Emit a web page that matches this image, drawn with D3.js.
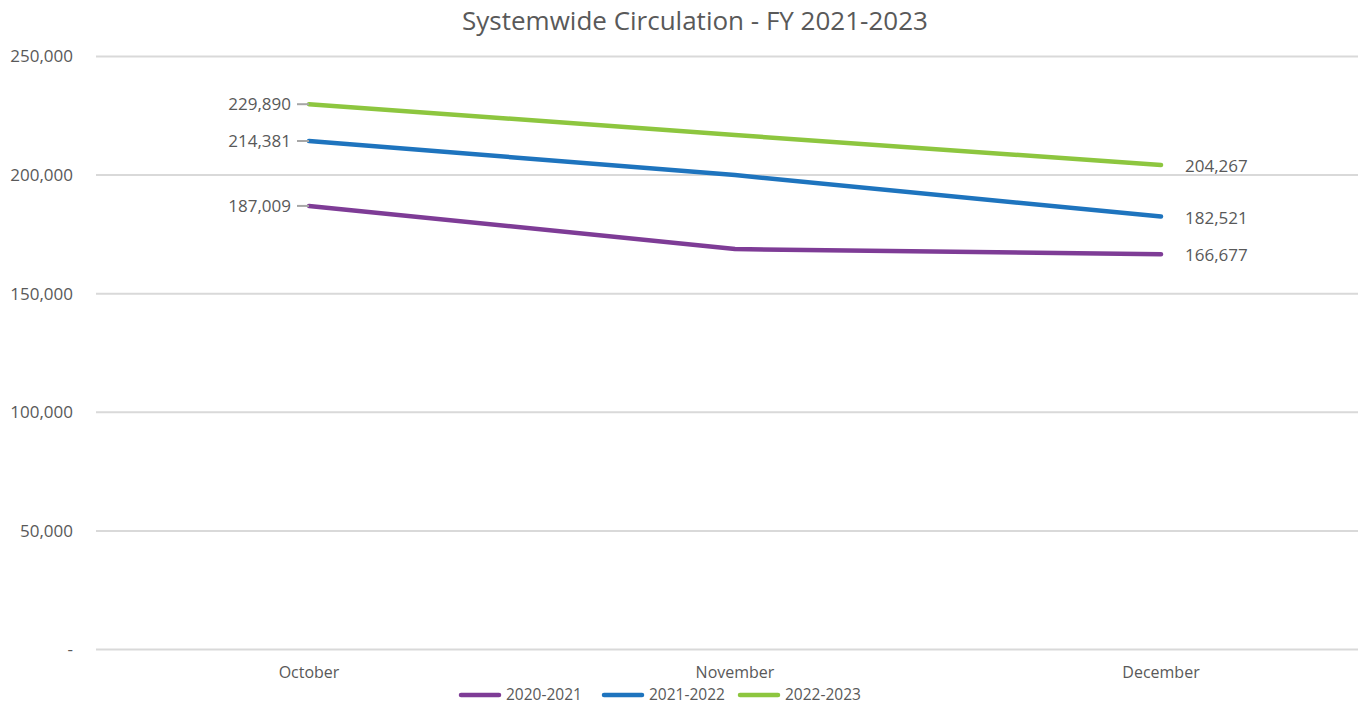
<!DOCTYPE html>
<html>
<head>
<meta charset="utf-8">
<script src="https://cdn.jsdelivr.net/npm/d3@7"></script>
<style>
  html, body { margin: 0; padding: 0; background: #fff; }
  svg { display: block; font-family: "Open Sans", "Noto Sans", sans-serif; }
</style>
</head>
<body>
<svg id="chart" width="1358" height="708"></svg>
<script>
// Monthly circulation by fiscal year
const months = ["October", "November", "December"];
const seriesNames = ["2020-2021", "2021-2022", "2022-2023"];
const values2020 = [187009, 168800, 166677];
const values2021 = [214381, 200000, 182521];
const values2022 = [229890, 216900, 204267];
const yTicks = [0, 50000, 100000, 150000, 200000, 250000];
const colors = ["#7E3C96", "#1E74BE", "#8DC63F"];

const series = [values2020, values2021, values2022].map((v, i) => ({
  name: seriesNames[i], values: v, color: colors[i]
}));

const svg = d3.select("#chart");
const plotLeft = 96, plotRight = 1374, plotTop = 56.5, plotBottom = 649.5;

const x = d3.scaleBand().domain(months).range([plotLeft, plotRight]);
const y = d3.scaleLinear().domain([0, 250000]).range([plotBottom, plotTop]);
const fmt = d3.format(",");
const textColor = "#595959";

// Title
svg.append("text")
  .attr("x", 695).attr("y", 30)
  .attr("text-anchor", "middle")
  .attr("font-size", 26)
  .attr("fill", textColor)
  .text("Systemwide Circulation - FY 2021-2023");

// Gridlines
svg.append("g")
  .selectAll("line")
  .data(yTicks)
  .join("line")
  .attr("x1", plotLeft).attr("x2", plotRight)
  .attr("y1", d => y(d)).attr("y2", d => y(d))
  .attr("stroke", "#d9d9d9")
  .attr("stroke-width", 2);

// Y axis labels
const yAxis = d3.axisLeft(y)
  .tickValues(yTicks)
  .tickSize(0)
  .tickPadding(23)
  .tickFormat(d => d === 0 ? "-" : fmt(d));
svg.append("g")
  .attr("transform", `translate(${plotLeft},0)`)
  .call(yAxis)
  .call(g => g.select(".domain").remove())
  .call(g => g.selectAll("text")
    .attr("font-size", 17)
    .attr("fill", textColor)
    .attr("font-family", "'Open Sans', sans-serif"));

// X axis labels
const xAxis = d3.axisBottom(x).tickSize(0).tickPadding(17);
svg.append("g")
  .attr("transform", `translate(0,${plotBottom})`)
  .call(xAxis)
  .call(g => g.select(".domain").remove())
  .call(g => g.selectAll("text")
    .attr("font-size", 16)
    .attr("fill", textColor)
    .attr("font-family", "'Open Sans', sans-serif"));

const cx = m => x(m) + x.bandwidth() / 2;

// Lines
const line = d3.line()
  .x((d, i) => cx(months[i]))
  .y(d => y(d));

svg.append("g")
  .selectAll("path")
  .data(series)
  .join("path")
  .attr("d", d => line(d.values))
  .attr("fill", "none")
  .attr("stroke", d => d.color)
  .attr("stroke-width", 4.5)
  .attr("stroke-linecap", "round")
  .attr("stroke-linejoin", "round");

// Data labels on first month with leader lines
const first = svg.append("g");
series.forEach(s => {
  const px = cx(months[0]), py = y(s.values[0]);
  first.append("line")
    .attr("x1", px - 12).attr("x2", px)
    .attr("y1", py).attr("y2", py)
    .attr("stroke", "#a6a6a6").attr("stroke-width", 2);
  first.append("text")
    .attr("x", px - 18).attr("y", py)
    .attr("dy", "0.35em")
    .attr("text-anchor", "end")
    .attr("font-size", 17)
    .attr("fill", textColor)
    .text(fmt(s.values[0]));
});

// Data labels on last month
const last = svg.append("g");
series.forEach(s => {
  const n = s.values.length - 1;
  const px = cx(months[n]), py = y(s.values[n]);
  last.append("text")
    .attr("x", px + 24).attr("y", py + 1)
    .attr("dy", "0.35em")
    .attr("text-anchor", "start")
    .attr("font-size", 17)
    .attr("fill", textColor)
    .text(fmt(s.values[n]));
});

// Legend
const legendX = [461, 604, 740];
const legend = svg.append("g");
series.forEach((s, i) => {
  const lx = legendX[i], ly = 695;
  legend.append("line")
    .attr("x1", lx).attr("x2", lx + 38)
    .attr("y1", ly).attr("y2", ly)
    .attr("stroke", s.color).attr("stroke-width", 4.5)
    .attr("stroke-linecap", "round");
  legend.append("text")
    .attr("x", lx + 45).attr("y", ly)
    .attr("dy", "0.35em")
    .attr("font-size", 15.5)
    .attr("fill", textColor)
    .text(s.name);
});
</script>
</body>
</html>
